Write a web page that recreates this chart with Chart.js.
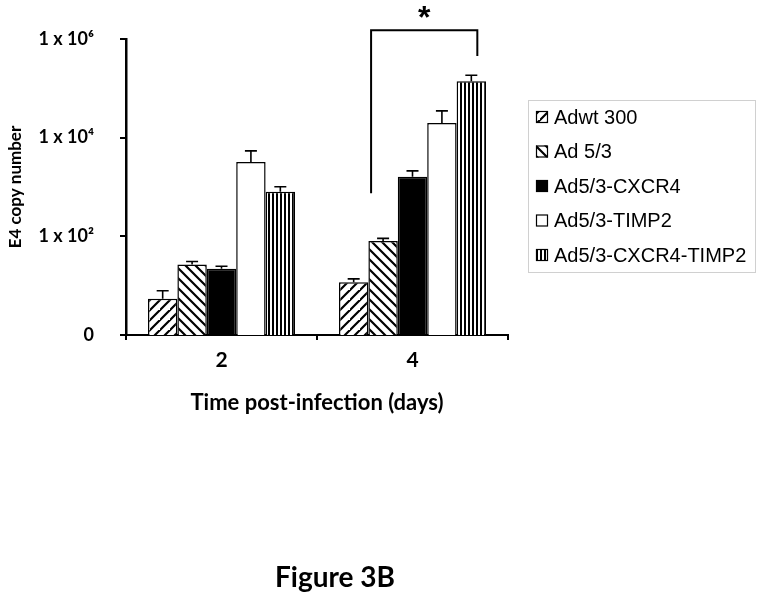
<!DOCTYPE html>
<html>
<head>
<meta charset="utf-8">
<script src="https://cdn.jsdelivr.net/npm/chart.js@4/dist/chart.umd.min.js"></script>
<style>
  html, body { margin: 0; padding: 0; background: #fff; }
  #wrap { position: relative; width: 762px; height: 594px; }
</style>
</head>
<body>
<div id="wrap"><canvas id="barChart" width="762" height="594"></canvas></div>
<script>
// data (log scale, "0" tick = 1)
const days = ['2', '4'];
const seriesNames = ['Adwt 300', 'Ad 5/3', 'Ad5/3-CXCR4', 'Ad5/3-TIMP2', 'Ad5/3-CXCR4-TIMP2'];
const adwt300 = [5.4, 11.7];
const ad53 = [26.8, 80];
const ad53Cxcr4 = [22, 1620];
const ad53Timp2 = [3200, 19900];
const ad53Cxcr4Timp2 = [800, 139000];
// upper end of each error bar
const adwt300Err = [7.9, 13.7];
const ad53Err = [31, 91];
const ad53Cxcr4Err = [24.8, 2120];
const ad53Timp2Err = [5400, 35000];
const ad53Cxcr4Timp2Err = [1010, 184000];
const yTicks = [1, 1e2, 1e4, 1e6];
const yTickLabels = ['0', '1 x 10\u00b2', '1 x 10\u2074', '1 x 10\u2076'];

function makePattern(kind) {
    const c = document.createElement('canvas');
    const s = 10;
    c.width = s; c.height = s;
    const g = c.getContext('2d');
    g.fillStyle = '#fff';
    g.fillRect(0, 0, s, s);
    g.strokeStyle = '#000';
    g.lineWidth = 2.2;
    if (kind === 'fwd') {
        g.beginPath();
        g.moveTo(-2, s + 2); g.lineTo(s + 2, -2);
        g.moveTo(-2 - s, s + 2); g.lineTo(2, -2);
        g.moveTo(s - 2, 2 * s + 2); g.lineTo(2 * s + 2, s - 2);
        g.stroke();
    } else if (kind === 'back') {
        g.beginPath();
        g.moveTo(-2, -2); g.lineTo(s + 2, s + 2);
        g.moveTo(s - 2, -2); g.lineTo(2 * s + 2, s + 2);
        g.moveTo(-s - 2, -2); g.lineTo(2, s + 2);
        g.stroke();
    } else if (kind === 'vert') {
        c.width = 4;
        g.fillStyle = '#fff';
        g.fillRect(0, 0, 4, s);
        g.fillStyle = '#000';
        g.fillRect(0, 0, 2, s);
    }
    return g.createPattern(c, 'repeat');
}

const fills = [makePattern('fwd'), makePattern('back'), '#000', '#fff', makePattern('vert')];
const values = [adwt300, ad53, ad53Cxcr4, ad53Timp2, ad53Cxcr4Timp2];
const errs = [adwt300Err, ad53Err, ad53Cxcr4Err, ad53Timp2Err, ad53Cxcr4Timp2Err];

const extras = {
    id: 'extras',
    afterDatasetsDraw(chart) {
        const ctx = chart.ctx;
        const y = chart.scales.y;
        ctx.save();
        ctx.strokeStyle = '#000';
        ctx.lineWidth = 1.6;
        // error bars, upper half only
        chart.data.datasets.forEach((ds, i) => {
            chart.getDatasetMeta(i).data.forEach((bar, j) => {
                const top = y.getPixelForValue(errs[i][j]);
                ctx.beginPath();
                ctx.moveTo(bar.x, bar.y);
                ctx.lineTo(bar.x, top);
                ctx.moveTo(bar.x - 6, top);
                ctx.lineTo(bar.x + 6, top);
                ctx.stroke();
            });
        });
        // significance bracket
        const b1 = chart.getDatasetMeta(1).data[1];
        const b4 = chart.getDatasetMeta(4).data[1];
        const xl = b1.x - 12, xr = b4.x + 6;
        const yTop = y.getPixelForValue(1.5e6);
        ctx.lineWidth = 2;
        ctx.beginPath();
        ctx.moveTo(xl, y.getPixelForValue(750));
        ctx.lineTo(xl, yTop);
        ctx.lineTo(xr, yTop);
        ctx.lineTo(xr, y.getPixelForValue(450000));
        ctx.stroke();
        ctx.fillStyle = '#000';
        ctx.font = 'bold 32px "Liberation Sans", Arial';
        ctx.textAlign = 'center';
        ctx.textBaseline = 'middle';
        ctx.fillText('*', (xl + xr) / 2, yTop - 11);

        // legend box
        const lx = 528, ly = 100, lw = 227, lh = 172;
        ctx.lineWidth = 1;
        ctx.strokeStyle = '#d0d0d0';
        ctx.strokeRect(lx + 0.5, ly + 0.5, lw, lh);
        ctx.font = '20px "Liberation Sans", Arial';
        ctx.textAlign = 'left';
        chart.data.datasets.forEach((ds, i) => {
            const cy = 117 + i * 34.5;
            ctx.fillStyle = ds.backgroundColor;
            ctx.fillRect(536, cy - 6, 12, 12);
            ctx.strokeStyle = '#000';
            ctx.lineWidth = 1.2;
            ctx.strokeRect(536.5, cy - 5.5, 11, 11);
            ctx.fillStyle = '#000';
            ctx.fillText(ds.label, 554, cy + 1);
        });

        // figure caption
        ctx.font = 'bold 28px Lato, "Open Sans"';
        ctx.textAlign = 'center';
        ctx.fillText('Figure 3B', 335, 578);
        ctx.restore();
    }
};

const ctx = document.getElementById('barChart').getContext('2d');
window.myChart = new Chart(ctx, {
    type: 'bar',
    data: {
        labels: days,
        datasets: seriesNames.map((name, i) => ({
            label: name,
            data: values[i],
            backgroundColor: fills[i],
            borderColor: '#000',
            borderWidth: 1.5,
            borderSkipped: 'bottom',
            categoryPercentage: 0.77,
            barPercentage: 1.0
        }))
    },
    options: {
        responsive: false,
        animation: false,
        layout: { padding: { left: 0, top: 39, right: 254, bottom: 178 } },
        plugins: {
            legend: { display: false },
            tooltip: { enabled: false }
        },
        scales: {
            x: {
                grid: { drawOnChartArea: false, color: '#000', lineWidth: 2, tickLength: 5, offset: true },
                border: { color: '#000', width: 2 },
                ticks: { color: '#000', font: { family: 'Lato', weight: 'bold', size: 21 }, padding: 8 },
                title: {
                    display: true,
                    text: 'Time post-infection (days)',
                    color: '#000',
                    font: { family: 'Lato', weight: 'bold', size: 22 },
                    padding: { top: 6, bottom: 0 }
                },
                afterFit(scale) { scale.height = 81; }
            },
            y: {
                type: 'logarithmic',
                min: 1,
                max: 1e6,
                grid: { drawOnChartArea: false, color: '#000', lineWidth: 2, tickLength: 6 },
                border: { color: '#000', width: 2.5 },
                afterBuildTicks(scale) {
                    scale.ticks = yTicks.map(v => ({ value: v }));
                },
                ticks: {
                    color: '#000',
                    font: { family: 'Lato', weight: 'bold', size: 18 },
                    padding: 26,
                    callback: function(value) {
                        const k = yTicks.indexOf(value);
                        return k >= 0 ? yTickLabels[k] : '';
                    }
                },
                title: {
                    display: true,
                    text: 'E4 copy number',
                    color: '#000',
                    font: { family: 'Lato', weight: 'bold', size: 17 },
                    padding: { top: 5, bottom: 0 }
                },
                afterFit(scale) { scale.width = 126; }
            }
        }
    },
    plugins: [extras]
});
</script>
</body>
</html>
